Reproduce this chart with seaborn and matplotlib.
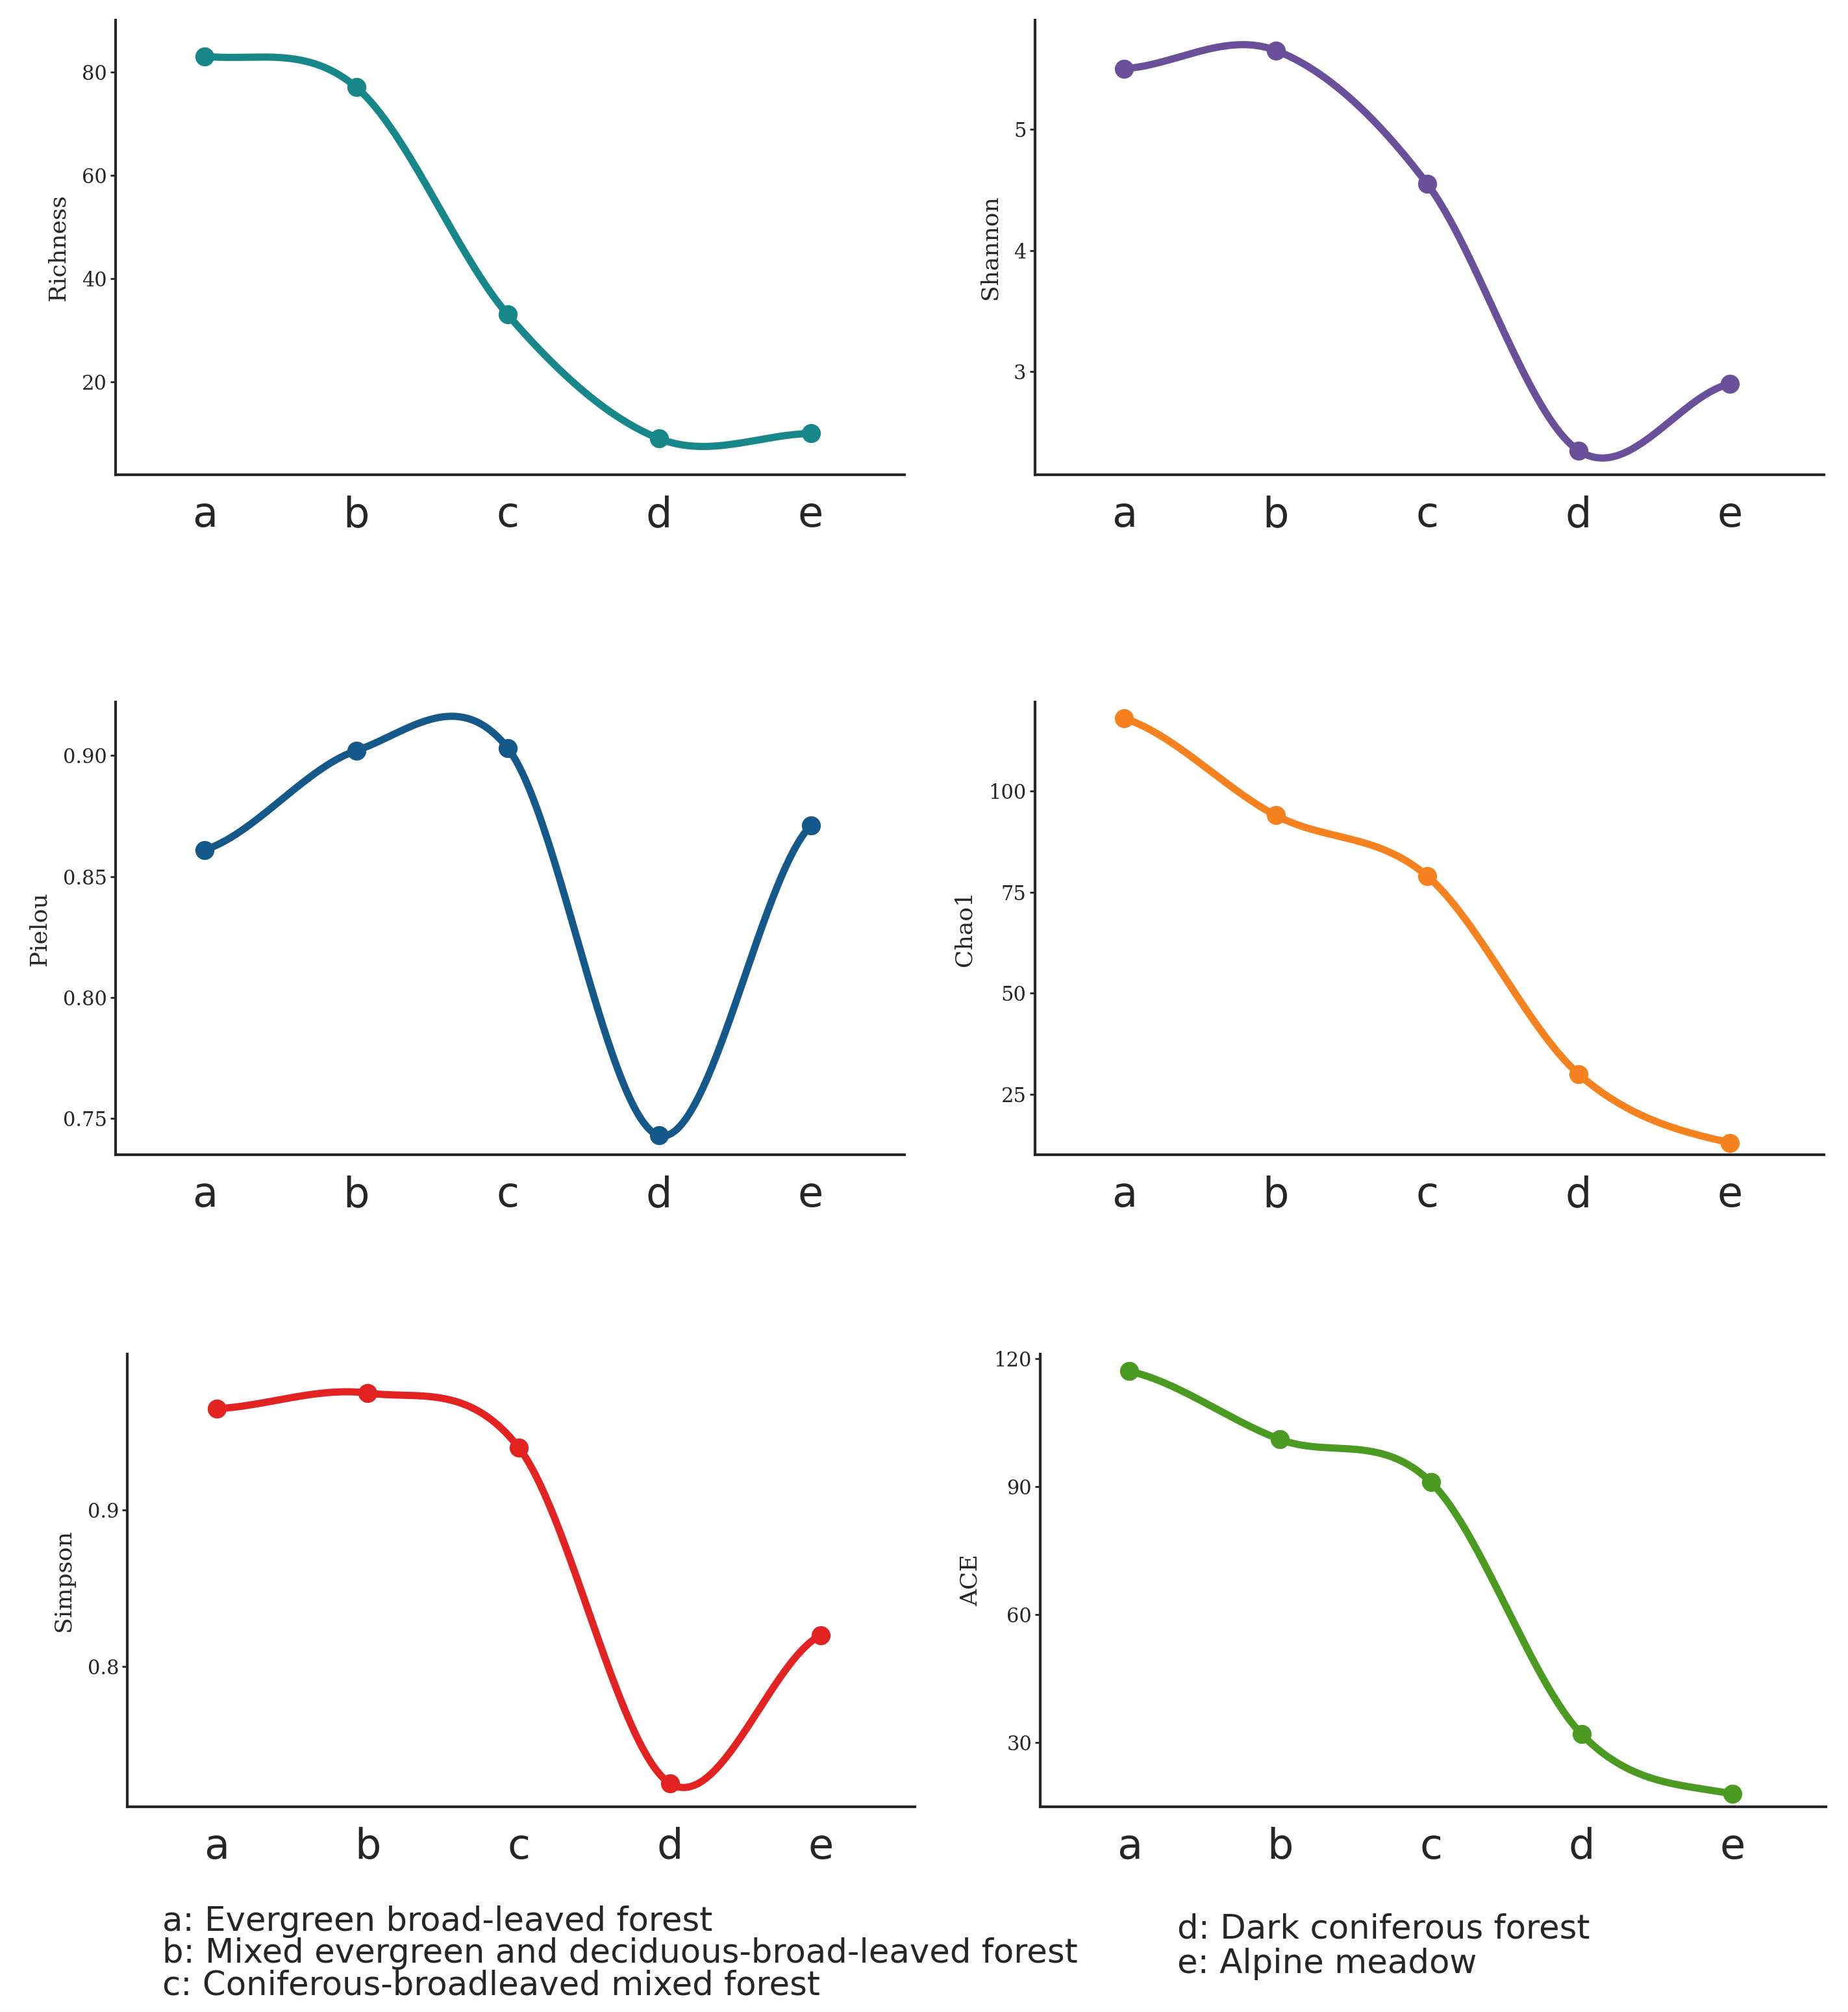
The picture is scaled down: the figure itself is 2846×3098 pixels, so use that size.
import numpy as np
import pandas as pd
import seaborn as sns
import matplotlib
matplotlib.use("Agg")
import matplotlib.pyplot as plt

sites = ["a", "b", "c", "d", "e"]
richness = [83, 77, 33, 9, 10]
shannon = [5.5, 5.65, 4.55, 2.35, 2.9]
pielou = [0.861, 0.902, 0.903, 0.743, 0.871]
chao1 = [118, 94, 79, 30, 13]
simpson = [0.965, 0.975, 0.94, 0.725, 0.82]
ace = [117, 101, 91, 32, 18]

legend_left = ["a: Evergreen broad-leaved forest",
               "b: Mixed evergreen and deciduous-broad-leaved forest",
               "c: Coniferous-broadleaved mixed forest"]
legend_right = ["d: Dark coniferous forest", "e: Alpine meadow"]


def smooth(y, n=60):
    # Catmull-Rom curve through equally spaced points
    y = np.asarray(y, float)
    k = len(y)
    m = np.zeros(k)
    m[1:-1] = (y[2:] - y[:-2]) / 2
    m[0] = (y[1] - y[0]) * 0.5
    m[-1] = (y[-1] - y[-2]) * 0.5
    xs, ys = [], []
    t = np.linspace(0, 1, n)
    for i in range(k - 1):
        h00 = 2 * t**3 - 3 * t**2 + 1
        h10 = t**3 - 2 * t**2 + t
        h01 = -2 * t**3 + 3 * t**2
        h11 = t**3 - t**2
        xs.append(i + t)
        ys.append(h00 * y[i] + h10 * m[i] + h01 * y[i + 1] + h11 * m[i + 1])
    return np.concatenate(xs), np.concatenate(ys)


sns.set_style("ticks")
fig = plt.figure(figsize=(28.46, 30.98), dpi=100)

panels = [
    ("Richness", richness, "#17878a", [20, 40, 60, 80], (2, 90), "{:.0f}", [0.0625, 0.764, 0.427, 0.226]),
    ("Shannon", shannon, "#6a4f9a", [3, 4, 5], (2.15, 5.9), "{:.0f}", [0.560, 0.764, 0.427, 0.226]),
    ("Pielou", pielou, "#15598a", [0.75, 0.80, 0.85, 0.90], (0.735, 0.922), "{:.2f}", [0.0625, 0.426, 0.427, 0.225]),
    ("Chao1", chao1, "#f5821f", [25, 50, 75, 100], (10, 122), "{:.0f}", [0.560, 0.426, 0.427, 0.225]),
    ("Simpson", simpson, "#e32222", [0.8, 0.9], (0.71, 1.0), "{:.1f}", [0.069, 0.102, 0.426, 0.225]),
    ("ACE", ace, "#4b9a22", [30, 60, 90, 120], (15, 121), "{:.0f}", [0.563, 0.102, 0.425, 0.225]),
]

for name, vals, color, ticks, ylim, fmt, rect in panels:
    ax = fig.add_axes(rect)
    xs, ys = smooth(vals)
    sns.lineplot(x=xs, y=ys, ax=ax, color=color, linewidth=8, sort=False)
    sns.scatterplot(x=np.arange(len(sites)), y=vals, ax=ax, color=color, s=380, edgecolor=color, zorder=3)
    ax.set_xlim(-0.59, 4.62)
    ax.set_ylim(*ylim)
    ax.set_xticks(range(len(sites)))
    ax.set_xticklabels(sites, fontsize=46)
    ax.set_yticks(ticks)
    ax.set_yticklabels([fmt.format(t) for t in ticks], fontsize=22, family="DejaVu Serif")
    ax.set_ylabel(name, fontsize=26, family="DejaVu Serif", labelpad=14)
    ax.tick_params(axis="x", length=0, pad=22)
    ax.tick_params(axis="y", length=6, width=2)
    sns.despine(ax=ax)
    for s in ("left", "bottom"):
        ax.spines[s].set_linewidth(3)

for i, t in enumerate(legend_left):
    fig.text(0.088, 0.045 - i * 0.016, t, fontsize=37, va="center")
for i, t in enumerate(legend_right):
    fig.text(0.637, 0.041 - i * 0.017, t, fontsize=37, va="center")

fig.savefig("out.png", dpi=100, facecolor="white")
